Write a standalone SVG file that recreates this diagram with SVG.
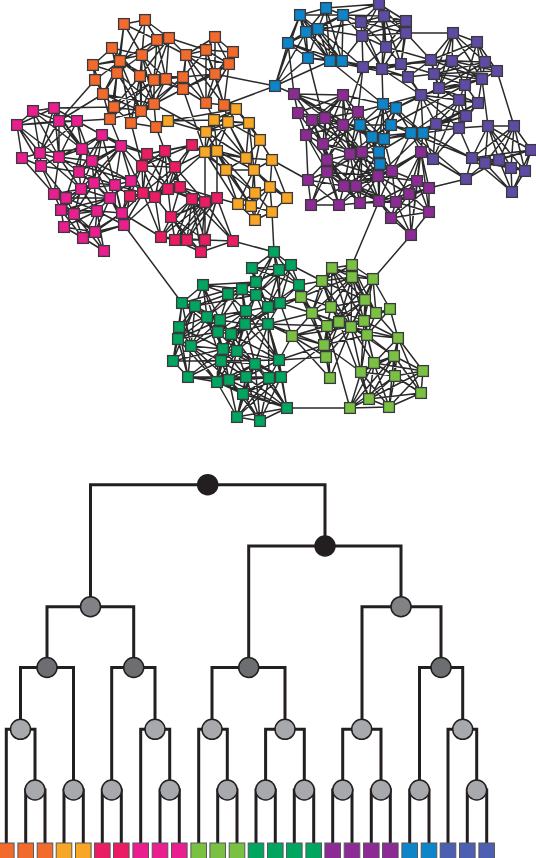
<svg xmlns="http://www.w3.org/2000/svg" width="536" height="858" viewBox="0 0 536 858">
<style>
.bg{fill:#fff}
.e{fill:none;stroke:#2b2a2a;stroke-width:1.5;stroke-linejoin:round}
.t{fill:none;stroke:#231f20;stroke-width:3;stroke-linejoin:miter}
.n rect{width:10.8px;height:10.8px;transform:translate(-5.4px,-5.4px);stroke:#3a3a3c;stroke-width:1.3}
.b rect{width:15.6px;height:20px;transform:translateX(-7.8px);stroke:#58595d;stroke-width:1}
.c circle{stroke:#231f20;stroke-width:1.5}
.or rect{fill:#f26a2c}.ye rect{fill:#f8a626}.cr rect{fill:#ea1c64}.ma rect{fill:#e91e8f}
.bl rect{fill:#0e85c9}.vi rect{fill:#5f4ba4}.pu rect{fill:#8c2b94}.gr rect{fill:#00a55f}.lg rect{fill:#7ac143}.ib rect{fill:#4c5fb0}
.r0 circle{fill:#231f20}.r1 circle{fill:#808285}.r2 circle{fill:#6d6e71}.r3 circle{fill:#a7a9ac}
</style>
<rect class="bg" width="536" height="858"/>
<g id="connectors">
<path class="e" d="M124 24L145 20L157 40L124 24L142 55L145 20L169 38L142 55L157 40L120 61L124 24L117 73L145 20L140 76L169 38L154 80L157 40L166 79L142 55L117 73L112 48L142 55L93 65L120 61L95 80L93 65L117 73L103 94L120 61L140 76L112 48L120 61L154 80L142 55L166 79L169 38
M141 111L103 94L154 104L117 73L141 111L140 76L154 104L154 80L141 111L166 79L154 104L142 55L141 111L120 61L131 123L140 76L114 107L154 80L110 119L117 73L114 107L103 94L110 119L141 111L156 127L154 104L131 123L114 107L141 111L183 89L154 104L183 77L141 111M166 79L183 77L154 80L183 89L166 79M140 76L183 77M154 80L183 77M95 80L103 94L93 65M112 48L93 65
M183 77L186 55L206 50L215 37L233 52L206 50L229 64L215 37L215 74L206 50L183 77M186 55L215 74L233 52M215 74L229 64L186 55L215 37M229 64L233 52M183 89L206 103L224 105L215 74L206 103L229 64L224 105L206 50L206 103M186 55L206 103L183 77M224 105L186 55M169 38L206 50M183 89L215 74M183 89L229 64M157 40L186 55M169 38L186 55M183 77L215 74M183 89L186 55L183 77
M95 80L59 121M103 94L59 121M54 108L114 107M77 121L110 119M110 119L121 146M131 123L142 166M156 127L165 151M154 104L206 132M168 121L214 120M168 121L206 132M168 121L236 109M224 105L236 109M206 103L214 120M224 105L228 122M156 127L131 123M183 89L205 152M215 74L275 86M224 105L275 86
M236 109L214 120L228 122L236 109L249 123L228 122L206 132L214 120L249 123L206 132L236 109M214 120L205 152L228 122L217 151L214 120M206 132L205 152L217 151L206 132M228 122L260 140L249 123L246 158L228 122M214 120L246 158L206 132L226 170L217 151L246 158L205 152L226 170M236 109L260 140L246 158M249 123L254 170L228 122M217 151L254 170L226 170L246 158L254 170L260 140L272 160L246 158M217 151L255 193L226 170L238 204L205 152M226 170L251 206L217 151M226 170L255 193L254 170L238 204M254 170L251 206L238 204L255 193L251 206L255 220L238 204M255 193L255 220L270 187L254 170L272 160L270 187L255 193L272 212L270 187L287 198L272 212L255 220M272 160L287 198L254 170M246 158L270 187L251 206L272 212M217 198L238 204M205 152L205 202M217 151L217 198M192 145L205 152M205 152L155 197M175 167L205 152M192 145L226 170M272 160L308 180M272 212L274 252M233 241L274 252
M33 111L54 108L59 121L33 111L17 125L54 108L77 121L59 121L17 125L77 121M17 125L22 158L40 153L17 125L59 157L33 111L40 153L54 108L59 157L59 121L40 153L77 121L59 157L41 166L40 153L22 158L41 166L17 125M33 111L82 149L54 108L92 161L59 121L82 149L77 121L102 135L82 149L40 153M77 121L92 161L102 135L59 157L82 149L92 161L121 146L102 135L79 172L82 149L121 146L79 172L59 157L92 161L79 172L41 166M22 158L54 194M41 166L66 198M59 157L54 194M59 157L81 189L40 153M41 166L54 194M79 172L94 183L92 161L81 189L79 172L115 185L92 161L131 181L121 146L115 185L102 135L94 183L121 146L81 189M79 172L110 198L92 161M82 149L66 198M40 153L131 181
M131 181L115 185L94 183L81 189L115 185L110 198L131 181L122 213L110 198L94 183L122 213L115 185L124 225L110 198L97 211L94 183L74 214L81 189L54 194L66 198L81 189L61 210L94 183L66 198L110 198L61 210L54 194L74 214L66 198L61 210L74 214L110 198L81 189L97 211L66 198M61 210L64 227L74 214L83 238L61 210L95 232L74 214L97 211L61 210M64 227L97 211L83 238L95 232L97 211L122 213L95 232L124 225L122 213L83 238L104 251L95 232L64 227L83 238M74 214L104 251L97 211L124 225L83 238M110 198L95 232M115 185L122 213M94 183L97 211M130 196L122 213L143 193M130 196L124 225L143 193M124 225L182 303M122 213L161 237M124 225L155 197M131 181L143 193L121 146M131 181L142 166L121 146L147 154M115 185L130 196L131 181M115 185L143 193M102 135L147 154M131 181L155 197
M192 145L165 151L147 154L142 166L165 151L175 167L147 154M142 166L175 167L192 145L142 166M192 145L147 154M165 151L143 193L147 154L130 196L142 166L155 197L165 151L168 189L142 166L143 193L175 167L155 197M175 167L168 189L147 154M175 167L180 187L165 151M192 145L168 189M143 193L168 189L155 197L180 187L143 193L130 196L155 197M168 189L180 187M175 167L205 202M180 187L192 199L168 189L205 202L180 187L217 198L192 199L205 202L217 198M192 199L171 217L205 202L175 240L192 199L161 237L205 202L187 240L192 199L205 240L205 202L201 252L192 199L175 240L171 217L161 237L175 240L187 240L205 240L201 252L187 240L171 217L205 240L175 240L201 252L171 217M217 198L171 217M217 198L175 240M217 198L187 240L205 202M217 198L205 240L233 241L201 252M217 198L233 241L205 202M217 198L201 252M161 237L205 240M161 237L187 240M205 240L192 199M155 197L171 217M155 197L161 237M168 189L171 217M180 187L171 217M143 193L161 237M192 199L233 241
M300 15L326 8L343 15L300 15L306 32L326 8L318 29L300 15M343 15L306 32L318 29L343 15M288 43L306 32L308 58L318 29L288 43L300 15L275 86L288 43L308 58L330 61L318 29L342 61L306 32L330 61L300 15L342 61L343 15L330 61L326 8L342 61L308 58L300 15M288 43L330 61M275 86L306 32M275 86L308 58L342 61M275 86L330 61M288 43L342 61M343 15L342 61M318 29L308 58M306 32L342 61M330 61L342 61M326 8L379 4M343 15L379 4M343 15L361 22L318 29L362 36L343 15L384 16M306 32L361 22M342 61L363 67M342 61L382 69M330 61L408 77M342 61L362 36M318 29L363 67M308 58L323 118M288 43L294 94M275 86L294 94M330 61L383 104
M379 4L384 16L361 22L379 4L406 21L384 16L406 33L361 22L362 36L384 16L386 47L379 4L362 36L406 21L386 47L361 22L406 21L406 33L386 47L362 36L406 33L379 4M384 16L401 64L406 33M406 21L401 64L386 47L363 67L362 36L382 69L386 47M406 33L382 69L384 16M361 22L382 69L363 67L401 64L382 69L408 77L401 64L406 33M406 33L453 33M406 33L431 60M386 47L431 60M401 64L431 60M401 64L452 61M382 69L383 104M363 67L358 112M363 67L343 125M362 36L363 67
M453 33L477 42L431 60L453 33L452 61L477 42L485 62L453 33L434 74L477 42L452 61L431 60L434 74L452 61L485 62L431 60M453 33L485 62M453 33L482 79L477 42L497 71L485 62L482 79L497 71L452 61L482 79L431 60M434 74L485 62L439 88L431 60M452 61L439 88L465 85L434 74L439 88L482 79L465 85L452 61L497 71M477 42L465 85M485 62L465 85L482 79L434 74L497 71M453 33L439 88M408 77L431 60M408 77L434 74M401 64L434 74M382 69L431 60M465 85L478 103L459 100L465 85L466 116L459 100L439 88L478 103L466 116L459 128L478 103L439 88M421 95L459 100L466 116L421 95L478 103M421 95L465 85M421 95L459 128M421 95L436 124L459 100L436 124L478 103M439 88L436 124M466 116L436 124L459 128L459 100M482 79L478 103M482 79L488 126M497 71L514 126M459 128L488 126M478 103L423 133M459 100L411 133L466 116M421 95L423 133M421 95L382 69M421 95L358 112M421 95L411 133M408 77L421 95M401 64L421 95L396 108M439 88L396 108M465 85L391 125M436 124L423 133M436 124L411 133M459 128L433 159L459 100M436 124L433 159M459 128L423 133
M488 126L514 126L472 158L488 126L485 163L514 126L499 160L488 126L511 168L514 126L525 171L488 126L531 150L514 126L511 168M472 158L485 163L499 160L511 168L525 171L531 150L499 160L472 158L511 168L485 163L525 171L499 160M472 158L531 150L485 163L512 192L511 168M499 160L512 192L525 171M472 158L512 192L531 150M488 126L472 158L459 128L472 158M466 179L433 159M466 179L472 158M466 179L485 163M466 179L499 160M466 179L421 152M466 179L429 188M423 133L472 158M411 133L472 158M423 133L433 159L411 133L466 179
M383 104L396 108L360 125L383 104L391 125L396 108L372 137L383 104L384 139L396 108L379 152L383 104M360 125L391 125L372 137L360 125L384 139L391 125L379 152L372 137L384 139L380 164L372 137M379 152L384 139M379 152L380 164L391 125M360 125L379 152M360 125L380 164M391 125L411 133L384 139L423 133L391 125M384 139L411 133L423 133M372 137L411 133M379 152L411 133M396 108L411 133M383 104L423 133M396 108L423 133
M294 94L343 95L298 113L294 94L312 120L343 95L325 118L294 94L358 112L343 95L343 125L325 118L298 113L312 120L325 118L306 135L312 120L343 125L358 112L312 120L323 144L325 118L358 112M343 95L323 144L343 125L306 135L343 95M298 113L306 135L323 144L306 135L325 118M298 113L323 144M294 94L343 125M343 95L350 154M358 112L350 154L325 118L362 152L358 112M343 125L362 152L312 120L350 154L343 125M323 144L362 152L350 154L323 144L327 160L325 118M312 120L327 160L306 135M343 125L327 160L358 112M294 94L312 120M358 112L360 125L343 125M343 125L372 137L358 112M362 152L372 137M350 154L372 137M362 152L379 152L350 154M362 152L384 139M350 154L360 125M323 144L360 125M343 95L383 104M343 95L360 125M294 94L372 137M358 112L384 139
M327 160L327 172L350 154L344 186L327 160L356 186L362 152L344 186L327 172L356 186L350 154L378 176L362 152L392 171L350 154L392 171L378 176L344 186L356 186L378 176L327 172L362 152L327 160L378 176M356 186L392 171L344 186M327 172L360 203L327 160L339 205L327 172L311 205L327 160L308 180L327 172L339 205L344 186L311 205L308 180L339 205L360 203L344 186L379 201L356 186L360 203L379 201L396 202L360 203L378 176L379 201L392 171L396 202L378 176L339 205M356 186L396 202L344 186M356 186L339 205M311 205L339 205M308 180L344 186M323 144L327 172M323 144L344 186M306 135L327 172M306 135L308 180M362 152L379 201M350 154L379 201M362 152L360 203M380 164L392 171L379 152L378 176L380 164L356 186M380 164L344 186M379 152L356 186M372 137L378 176M384 139L392 171M380 164L379 201M372 137L344 186M384 139L378 176M411 133L392 171M423 133L378 176M421 152L392 171L417 181L421 152L429 188L417 181L409 194L421 152L396 202L417 181L392 171L409 194L429 188L429 212L409 194L396 202L429 212L417 181M429 188L396 202M421 152L429 212M409 194L391 218L396 202L411 235L429 212L391 218L411 235L409 194L429 212L391 218L379 201L409 194M379 201L417 181M417 181L378 176L421 152M391 218L429 188M411 235L417 181M411 235L421 152M396 202L379 201L411 235M378 176L409 194M411 133L421 152M423 133L421 152L423 133L417 181M379 201L352 265M411 235L373 279
M274 252L252 268L279 270L274 252L291 265L279 270L252 268L291 265M274 252L256 282L252 268L299 285L291 265L256 282L279 270L299 285L274 252M256 282L291 265M252 268L256 295L256 282L279 270L256 295L291 265M274 252L256 295M274 252L280 303M279 270L280 303L291 265L268 307L279 270M299 285L280 303L268 307L256 295L280 303M256 282L268 307M256 282L280 303M252 268L268 307M299 285L268 307M291 265L322 281M299 285L322 281M299 285L301 297M203 285L228 294L242 289L203 285L256 282L242 289L256 295L228 294L256 282M228 294L246 311L242 289L245 324L228 294L245 324L256 295L246 311L245 324L268 324L246 311L268 307L245 324L256 295L268 324L268 307L280 303L268 324M203 285L182 303L195 306L203 285L207 317L182 303L179 327L195 306L178 339L182 303L191 346L195 306L207 317L228 294L195 306L220 320L203 285L218 332L182 303M228 294L220 320L242 289L207 317L246 311L220 320L245 324L218 332L246 311L231 334L245 324L237 351L246 311M207 317L220 320L218 332L231 334L220 320L237 351L218 332L223 349L231 334L237 351L223 349L245 324M179 327L178 339L191 346L179 327L207 317L178 339L218 332L191 346L207 317L223 349L191 346L220 320L178 339M179 327L173 361L178 339L188 377L191 346L173 361L221 361L191 346L217 382L178 339M173 361L188 377L217 382L221 361L188 377L229 380L221 361L223 349L173 361M179 327L223 349M179 327L188 377L191 346L229 380M207 317L221 361M218 332L221 361L231 334L217 382L223 349L188 377M220 320L217 382M237 351L217 382M237 351L221 361M237 351L229 380L223 349M195 306L173 361M182 303L173 361M256 295L231 334M268 307L237 351M280 303L231 334M268 324L231 334M268 324L237 351M245 324L221 361M268 324L255 364M268 324L279 360L245 324L255 364M231 334L255 364L237 351L279 360L231 334M237 351L246 377L255 364L269 378L279 360L281 377L269 378L246 377L279 360M255 364L281 377L246 377L229 380L255 364L217 382L246 377M221 361L279 360M221 361L255 364M221 361L246 377M223 349L246 377M223 349L255 364M231 334L246 377M229 380L217 382M173 361L279 360M188 377L246 377M269 378L229 380L281 377M237 351L281 377M268 324L281 377M246 311L279 360M268 307L269 378M243 394L246 377L287 408L243 394L269 378L287 408L281 377L243 394L229 380L237 417L243 394L260 421L246 377L237 417L287 408L260 421L237 417L269 378L260 421L281 377L237 417L255 364L287 408L229 380L260 421L243 394L287 408L217 382L243 394M255 364L260 421M255 364L243 394M281 377L287 408L279 360L287 408M229 380L237 417M217 382L237 417M182 303L256 282M195 306L256 295M280 303L292 336M268 324L292 336M268 324L312 313M280 303L312 313M301 297L268 307M301 297L280 303M299 285L312 313M279 360L292 336M281 377L324 345M279 360L326 357M279 360L324 345M268 324L324 345M268 324L327 326M301 297L245 324
M352 265L332 268L322 281L352 265L352 277L332 268L373 279L352 265M322 281L352 277L373 279L365 300L352 277L331 307L332 268L365 300L322 281L331 307L352 277L376 313L373 279L390 309L376 313L365 300L331 307L301 297L322 281L312 313L301 297M322 281L339 322L352 277L364 321L373 279L351 327L352 277L339 322M332 268L312 313L352 277M332 268L351 327L322 281M332 268L364 321L365 300L351 327L376 313L364 321L390 309L373 279M331 307L312 313L327 326L331 307L339 322L327 326L351 327L331 307L364 321L339 322L351 327L364 321M312 313L339 322M312 313L351 327M365 300L339 322M365 300L327 326M373 279L327 326M352 265L365 300M352 265L376 313M301 297L331 307M301 297L352 277M301 297L327 326M292 336L312 313L324 345L292 336L327 326L324 345L339 322L292 336M292 336L351 327L324 345L326 357L351 327L367 335L364 321L376 313L367 335L339 322M365 300L367 335L390 309L398 338L376 313M367 335L398 338L364 321M351 327L398 338M292 336L326 357L327 326M324 345L330 378L326 357M312 313L326 357M339 322L326 357M367 335L324 345M301 297L324 345M292 336L330 378M327 326L330 378M351 327L330 378
M398 338L394 356L374 363L398 338L395 376L394 356L423 371L398 338L421 393L395 376L374 363L361 372L394 356L369 399L374 363L389 407L395 376L369 399L361 372L350 408L369 399L389 407L350 408L374 363M361 372L395 376L423 371L421 393L389 407L423 371L395 376L389 407M361 372L389 407M394 356L421 393M394 356L389 407M374 363L423 371M374 363L421 393M395 376L350 408M394 356L350 408M367 335L374 363M367 335L394 356M367 335L361 372M351 327L361 372M339 322L369 399M327 326L350 408M364 321L374 363M351 327L374 363M324 345L361 372M367 335L398 338M351 327L394 356M364 321L361 372M369 399L423 371M369 399L421 393M287 408L350 408M350 408L389 407"/>
</g>
<g id="nodes" class="n">
<g class="or"><g id="o1"><rect x="124" y="24"/></g><g id="o2"><rect x="145" y="20"/></g><g id="o3"><rect x="157" y="40"/></g><g id="o4"><rect x="169" y="38"/></g><g id="o5"><rect x="112" y="48"/></g><g id="o6"><rect x="142" y="55"/></g><g id="o7"><rect x="120" y="61"/></g><g id="o8"><rect x="93" y="65"/></g><g id="o9"><rect x="117" y="73"/></g><g id="o10"><rect x="95" y="80"/></g><g id="o11"><rect x="140" y="76"/></g><g id="o12"><rect x="154" y="80"/></g><g id="o13"><rect x="166" y="79"/></g><g id="o14"><rect x="183" y="77"/></g><g id="o15"><rect x="183" y="89"/></g><g id="o16"><rect x="186" y="55"/></g><g id="o17"><rect x="206" y="50"/></g><g id="o18"><rect x="215" y="37"/></g><g id="o19"><rect x="233" y="52"/></g><g id="o20"><rect x="229" y="64"/></g><g id="o21"><rect x="215" y="74"/></g><g id="o22"><rect x="103" y="94"/></g><g id="o23"><rect x="114" y="107"/></g><g id="o24"><rect x="154" y="104"/></g><g id="o25"><rect x="141" y="111"/></g><g id="o26"><rect x="110" y="119"/></g><g id="o27"><rect x="131" y="123"/></g><g id="o28"><rect x="156" y="127"/></g><g id="o29"><rect x="206" y="103"/></g><g id="o30"><rect x="224" y="105"/></g></g>
<g class="ye"><g id="y1"><rect x="236" y="109"/></g><g id="y2"><rect x="168" y="121"/></g><g id="y3"><rect x="214" y="120"/></g><g id="y4"><rect x="228" y="122"/></g><g id="y5"><rect x="249" y="123"/></g><g id="y6"><rect x="206" y="132"/></g><g id="y7"><rect x="260" y="140"/></g><g id="y8"><rect x="205" y="152"/></g><g id="y9"><rect x="217" y="151"/></g><g id="y10"><rect x="246" y="158"/></g><g id="y11"><rect x="226" y="170"/></g><g id="y12"><rect x="254" y="170"/></g><g id="y13"><rect x="255" y="193"/></g><g id="y14"><rect x="270" y="187"/></g><g id="y15"><rect x="238" y="204"/></g><g id="y16"><rect x="251" y="206"/></g><g id="y17"><rect x="255" y="220"/></g><g id="y18"><rect x="272" y="160"/></g><g id="y19"><rect x="287" y="198"/></g><g id="y20"><rect x="272" y="212"/></g></g>
<g class="ma"><g id="m1"><rect x="33" y="111"/></g><g id="m2"><rect x="54" y="108"/></g><g id="m3"><rect x="17" y="125"/></g><g id="m4"><rect x="59" y="121"/></g><g id="m5"><rect x="77" y="121"/></g><g id="m6"><rect x="102" y="135"/></g><g id="m7"><rect x="121" y="146"/></g><g id="m8"><rect x="82" y="149"/></g><g id="m9"><rect x="40" y="153"/></g><g id="m10"><rect x="22" y="158"/></g><g id="m11"><rect x="59" y="157"/></g><g id="m12"><rect x="41" y="166"/></g><g id="m13"><rect x="92" y="161"/></g><g id="m14"><rect x="79" y="172"/></g><g id="m15"><rect x="131" y="181"/></g><g id="m16"><rect x="94" y="183"/></g><g id="m17"><rect x="81" y="189"/></g><g id="m18"><rect x="115" y="185"/></g><g id="m19"><rect x="54" y="194"/></g><g id="m20"><rect x="66" y="198"/></g><g id="m21"><rect x="110" y="198"/></g><g id="m22"><rect x="61" y="210"/></g><g id="m23"><rect x="74" y="214"/></g><g id="m24"><rect x="97" y="211"/></g><g id="m25"><rect x="122" y="213"/></g><g id="m26"><rect x="64" y="227"/></g><g id="m27"><rect x="124" y="225"/></g><g id="m28"><rect x="95" y="232"/></g><g id="m29"><rect x="83" y="238"/></g><g id="m30"><rect x="104" y="251"/></g></g>
<g class="cr"><g id="c1"><rect x="192" y="145"/></g><g id="c2"><rect x="147" y="154"/></g><g id="c3"><rect x="165" y="151"/></g><g id="c4"><rect x="142" y="166"/></g><g id="c5"><rect x="175" y="167"/></g><g id="c6"><rect x="130" y="196"/></g><g id="c7"><rect x="143" y="193"/></g><g id="c8"><rect x="155" y="197"/></g><g id="c9"><rect x="168" y="189"/></g><g id="c10"><rect x="180" y="187"/></g><g id="c11"><rect x="192" y="199"/></g><g id="c12"><rect x="205" y="202"/></g><g id="c13"><rect x="217" y="198"/></g><g id="c14"><rect x="171" y="217"/></g><g id="c15"><rect x="161" y="237"/></g><g id="c16"><rect x="175" y="240"/></g><g id="c17"><rect x="187" y="240"/></g><g id="c18"><rect x="205" y="240"/></g><g id="c19"><rect x="233" y="241"/></g><g id="c20"><rect x="201" y="252"/></g></g>
<g class="bl"><g id="b1"><rect x="326" y="8"/></g><g id="b2"><rect x="300" y="15"/></g><g id="b3"><rect x="343" y="15"/></g><g id="b4"><rect x="306" y="32"/></g><g id="b5"><rect x="318" y="29"/></g><g id="b6"><rect x="288" y="43"/></g><g id="b7"><rect x="308" y="58"/></g><g id="b8"><rect x="330" y="61"/></g><g id="b9"><rect x="342" y="61"/></g><g id="b10"><rect x="275" y="86"/></g><g id="b11"><rect x="383" y="104"/></g><g id="b12"><rect x="396" y="108"/></g><g id="b13"><rect x="360" y="125"/></g><g id="b14"><rect x="391" y="125"/></g><g id="b15"><rect x="372" y="137"/></g><g id="b16"><rect x="384" y="139"/></g><g id="b17"><rect x="411" y="133"/></g><g id="b18"><rect x="423" y="133"/></g><g id="b19"><rect x="379" y="152"/></g><g id="b20"><rect x="380" y="164"/></g></g>
<g class="vi"><g id="v1"><rect x="379" y="4"/></g><g id="v2"><rect x="384" y="16"/></g><g id="v3"><rect x="361" y="22"/></g><g id="v4"><rect x="406" y="21"/></g><g id="v5"><rect x="362" y="36"/></g><g id="v6"><rect x="406" y="33"/></g><g id="v7"><rect x="453" y="33"/></g><g id="v8"><rect x="477" y="42"/></g><g id="v9"><rect x="386" y="47"/></g><g id="v10"><rect x="431" y="60"/></g><g id="v11"><rect x="452" y="61"/></g><g id="v12"><rect x="485" y="62"/></g><g id="v13"><rect x="401" y="64"/></g><g id="v14"><rect x="363" y="67"/></g><g id="v15"><rect x="382" y="69"/></g><g id="v16"><rect x="434" y="74"/></g><g id="v17"><rect x="497" y="71"/></g><g id="v18"><rect x="408" y="77"/></g><g id="v19"><rect x="482" y="79"/></g><g id="v20"><rect x="439" y="88"/></g><g id="v21"><rect x="465" y="85"/></g><g id="v22"><rect x="421" y="95"/></g><g id="v23"><rect x="459" y="100"/></g><g id="v24"><rect x="478" y="103"/></g><g id="v25"><rect x="466" y="116"/></g><g id="v26"><rect x="436" y="124"/></g><g id="v27"><rect x="459" y="128"/></g><g id="v28"><rect x="488" y="126"/></g><g id="v29"><rect x="514" y="126"/></g><g id="v30"><rect x="531" y="150"/></g><g id="v31"><rect x="433" y="159"/></g><g id="v32"><rect x="472" y="158"/></g><g id="v33"><rect x="485" y="163"/></g><g id="v34"><rect x="499" y="160"/></g><g id="v35"><rect x="511" y="168"/></g><g id="v36"><rect x="525" y="171"/></g><g id="v37"><rect x="466" y="179"/></g><g id="v38"><rect x="512" y="192"/></g></g>
<g class="pu"><g id="p1"><rect x="294" y="94"/></g><g id="p2"><rect x="343" y="95"/></g><g id="p3"><rect x="298" y="113"/></g><g id="p4"><rect x="312" y="120"/></g><g id="p5"><rect x="325" y="118"/></g><g id="p6"><rect x="358" y="112"/></g><g id="p7"><rect x="343" y="125"/></g><g id="p8"><rect x="306" y="135"/></g><g id="p9"><rect x="323" y="144"/></g><g id="p10"><rect x="350" y="154"/></g><g id="p11"><rect x="362" y="152"/></g><g id="p12"><rect x="421" y="152"/></g><g id="p13"><rect x="327" y="160"/></g><g id="p14"><rect x="327" y="172"/></g><g id="p15"><rect x="308" y="180"/></g><g id="p16"><rect x="378" y="176"/></g><g id="p17"><rect x="392" y="171"/></g><g id="p18"><rect x="417" y="181"/></g><g id="p19"><rect x="429" y="188"/></g><g id="p20"><rect x="344" y="186"/></g><g id="p21"><rect x="356" y="186"/></g><g id="p22"><rect x="409" y="194"/></g><g id="p23"><rect x="311" y="205"/></g><g id="p24"><rect x="339" y="205"/></g><g id="p25"><rect x="360" y="203"/></g><g id="p26"><rect x="379" y="201"/></g><g id="p27"><rect x="396" y="202"/></g><g id="p28"><rect x="429" y="212"/></g><g id="p29"><rect x="391" y="218"/></g><g id="p30"><rect x="411" y="235"/></g></g>
<g class="gr"><g id="g1"><rect x="274" y="252"/></g><g id="g2"><rect x="252" y="268"/></g><g id="g3"><rect x="291" y="265"/></g><g id="g4"><rect x="279" y="270"/></g><g id="g5"><rect x="203" y="285"/></g><g id="g6"><rect x="256" y="282"/></g><g id="g7"><rect x="299" y="285"/></g><g id="g8"><rect x="242" y="289"/></g><g id="g9"><rect x="228" y="294"/></g><g id="g10"><rect x="256" y="295"/></g><g id="g11"><rect x="182" y="303"/></g><g id="g12"><rect x="195" y="306"/></g><g id="g13"><rect x="280" y="303"/></g><g id="g14"><rect x="268" y="307"/></g><g id="g15"><rect x="246" y="311"/></g><g id="g16"><rect x="207" y="317"/></g><g id="g17"><rect x="220" y="320"/></g><g id="g18"><rect x="245" y="324"/></g><g id="g19"><rect x="268" y="324"/></g><g id="g20"><rect x="179" y="327"/></g><g id="g21"><rect x="218" y="332"/></g><g id="g22"><rect x="231" y="334"/></g><g id="g23"><rect x="178" y="339"/></g><g id="g24"><rect x="191" y="346"/></g><g id="g25"><rect x="223" y="349"/></g><g id="g26"><rect x="237" y="351"/></g><g id="g27"><rect x="173" y="361"/></g><g id="g28"><rect x="221" y="361"/></g><g id="g29"><rect x="279" y="360"/></g><g id="g30"><rect x="255" y="364"/></g><g id="g31"><rect x="188" y="377"/></g><g id="g32"><rect x="246" y="377"/></g><g id="g33"><rect x="269" y="378"/></g><g id="g34"><rect x="281" y="377"/></g><g id="g35"><rect x="217" y="382"/></g><g id="g36"><rect x="229" y="380"/></g><g id="g37"><rect x="243" y="394"/></g><g id="g38"><rect x="287" y="408"/></g><g id="g39"><rect x="237" y="417"/></g><g id="g40"><rect x="260" y="421"/></g></g>
<g class="lg"><g id="l1"><rect x="332" y="268"/></g><g id="l2"><rect x="352" y="265"/></g><g id="l3"><rect x="322" y="281"/></g><g id="l4"><rect x="352" y="277"/></g><g id="l5"><rect x="373" y="279"/></g><g id="l6"><rect x="301" y="297"/></g><g id="l7"><rect x="365" y="300"/></g><g id="l8"><rect x="312" y="313"/></g><g id="l9"><rect x="331" y="307"/></g><g id="l10"><rect x="376" y="313"/></g><g id="l11"><rect x="390" y="309"/></g><g id="l12"><rect x="364" y="321"/></g><g id="l13"><rect x="339" y="322"/></g><g id="l14"><rect x="327" y="326"/></g><g id="l15"><rect x="351" y="327"/></g><g id="l16"><rect x="292" y="336"/></g><g id="l17"><rect x="367" y="335"/></g><g id="l18"><rect x="398" y="338"/></g><g id="l19"><rect x="324" y="345"/></g><g id="l20"><rect x="326" y="357"/></g><g id="l21"><rect x="394" y="356"/></g><g id="l22"><rect x="374" y="363"/></g><g id="l23"><rect x="361" y="372"/></g><g id="l24"><rect x="395" y="376"/></g><g id="l25"><rect x="423" y="371"/></g><g id="l26"><rect x="330" y="378"/></g><g id="l27"><rect x="421" y="393"/></g><g id="l28"><rect x="369" y="399"/></g><g id="l29"><rect x="389" y="407"/></g><g id="l30"><rect x="350" y="408"/></g></g>
</g>
<g id="tree-connectors">
<path class="t" d="M90.5 607V484.7H325V546M248.7 667.5V546H401V607M47 667.5V606.7H133.7V667.5M362 729V606.7H441V667.5M20.5 729V667.5H73.5V790M111.7 790V667.5H155V729M212 729V667.5H285V729M419.5 790V667.5H462.7V729M6.3 843V729.3H35V790M140.7 843V729.3H169.7V790M198.7 843V729.3H227.3V790M265.6 790V729.3H304.3V790M342.7 790V729.3H381V790M448 843V729.3H476.7V790M25.7 843V790H45V843M64 843V790H83.3V843M102.3 843V790H121.3V843M160 843V790H179.3V843M217.7 843V790H237V843M256 843V790H275.3V843M294.3 843V790H313.7V843M332.7 843V790H352V843M371.3 843V790H390.3V843M409.7 843V790H429V843M467.3 843V790H486.7V843"/>
</g>
<g id="tree-nodes">
<g class="c r0"><g id="t1"><circle cx="207.7" cy="484.7" r="10"/></g><g id="t2"><circle cx="325" cy="546" r="10"/></g></g>
<g class="c r1"><g id="t3"><circle cx="90.5" cy="606.7" r="10"/></g><g id="t4"><circle cx="401" cy="606.7" r="10"/></g></g>
<g class="c r2"><g id="t5"><circle cx="47" cy="667.5" r="10"/></g><g id="t6"><circle cx="133.7" cy="667.5" r="10"/></g><g id="t7"><circle cx="248.7" cy="667.5" r="10"/></g><g id="t8"><circle cx="441" cy="667.5" r="10"/></g></g>
<g class="c r3"><g id="t9"><circle cx="20.5" cy="729.3" r="10"/></g><g id="t10"><circle cx="155" cy="729.3" r="10"/></g><g id="t11"><circle cx="212" cy="729.3" r="10"/></g><g id="t12"><circle cx="285" cy="729.3" r="10"/></g><g id="t13"><circle cx="361.7" cy="729.3" r="10"/></g><g id="t14"><circle cx="462.7" cy="729.3" r="10"/></g>
<g id="t15"><circle cx="35" cy="790" r="10"/></g><g id="t16"><circle cx="73.5" cy="790" r="10"/></g><g id="t17"><circle cx="111.7" cy="790" r="10"/></g><g id="t18"><circle cx="169.7" cy="790" r="10"/></g><g id="t19"><circle cx="227.3" cy="790" r="10"/></g><g id="t20"><circle cx="265.6" cy="790" r="10"/></g><g id="t21"><circle cx="304.3" cy="790" r="10"/></g><g id="t22"><circle cx="342.7" cy="790" r="10"/></g><g id="t23"><circle cx="381" cy="790" r="10"/></g><g id="t24"><circle cx="419.5" cy="790" r="10"/></g><g id="t25"><circle cx="476.7" cy="790" r="10"/></g></g>
</g>
<g id="leaves" class="b">
<g class="or"><g id="s1"><rect x="6.3" y="843"/></g><g id="s2"><rect x="25.7" y="843"/></g><g id="s3"><rect x="45" y="843"/></g></g>
<g class="ye"><g id="s4"><rect x="64" y="843"/></g><g id="s5"><rect x="83.3" y="843"/></g></g>
<g class="cr"><g id="s6"><rect x="102.3" y="843"/></g><g id="s7"><rect x="121.3" y="843"/></g></g>
<g class="ma"><g id="s8"><rect x="140.7" y="843"/></g><g id="s9"><rect x="160" y="843"/></g><g id="s10"><rect x="179.3" y="843"/></g></g>
<g class="lg"><g id="s11"><rect x="198.7" y="843"/></g><g id="s12"><rect x="217.7" y="843"/></g><g id="s13"><rect x="237" y="843"/></g></g>
<g class="gr"><g id="s14"><rect x="256" y="843"/></g><g id="s15"><rect x="275.3" y="843"/></g><g id="s16"><rect x="294.3" y="843"/></g><g id="s17"><rect x="313.7" y="843"/></g></g>
<g class="pu"><g id="s18"><rect x="332.7" y="843"/></g><g id="s19"><rect x="352" y="843"/></g><g id="s20"><rect x="371.3" y="843"/></g><g id="s21"><rect x="390.3" y="843"/></g></g>
<g class="bl"><g id="s22"><rect x="409.7" y="843"/></g><g id="s23"><rect x="429" y="843"/></g></g>
<g class="ib"><g id="s24"><rect x="448" y="843"/></g><g id="s25"><rect x="467.3" y="843"/></g><g id="s26"><rect x="486.7" y="843"/></g></g>
</g>
</svg>
